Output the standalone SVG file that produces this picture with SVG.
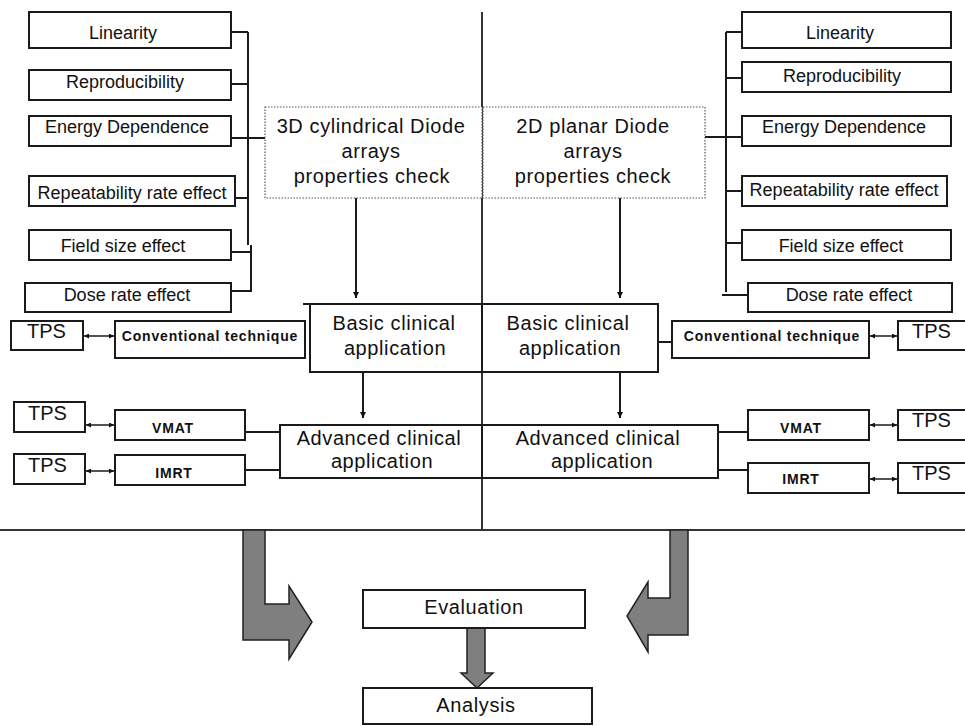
<svg xmlns="http://www.w3.org/2000/svg" width="965" height="726" viewBox="0 0 965 726">
<defs>
<marker id="ah" viewBox="0 0 10 10" refX="10" refY="5" markerWidth="6" markerHeight="6" markerUnits="userSpaceOnUse" orient="auto-start-reverse"><path d="M0,0 L10,5 L0,10 Z" fill="#111"/></marker>
<marker id="ahs" viewBox="0 0 10 10" refX="10" refY="5" markerWidth="6" markerHeight="5" markerUnits="userSpaceOnUse" orient="auto-start-reverse"><path d="M0,0 L10,5 L0,10 Z" fill="#111"/></marker>
<style>
rect.b{fill:#fff;stroke:#1a1a1a;stroke-width:2}
rect.d{fill:#fff;stroke:#555;stroke-width:1.2;stroke-dasharray:1.5 1.5}
text{font-family:"Liberation Sans",Arial,sans-serif;fill:#111}
.p{font-size:18px;text-anchor:middle}
.m{font-size:20px;text-anchor:middle;letter-spacing:0.6px}
.s{font-size:14px;font-weight:bold;text-anchor:middle;letter-spacing:0.8px}
.t{font-size:20px}
.c line,.c path{stroke:#1a1a1a;stroke-width:2;fill:none}
.c .da{stroke-width:1.5;marker-start:url(#ahs);marker-end:url(#ahs)}
.c .ar{marker-end:url(#ah)}
.big{fill:#7f7f7f;stroke:#222;stroke-width:1.5}
</style>
</defs>
<rect width="965" height="726" fill="#fff"/>

<g id="connectors" class="c">
<line x1="482" y1="12" x2="482" y2="530" style="stroke:#333"/>
<line x1="0" y1="530" x2="965" y2="530" style="stroke:#333"/>
<!-- left bus -->
<line x1="248" y1="32" x2="248" y2="245"/>
<line x1="251" y1="245" x2="251" y2="292"/>
<line x1="231" y1="32" x2="248" y2="32"/>
<line x1="231" y1="84" x2="248" y2="84"/>
<line x1="231" y1="138" x2="266" y2="138"/>
<line x1="235" y1="198" x2="248" y2="198"/>
<line x1="231" y1="252" x2="251" y2="252"/>
<line x1="231" y1="291" x2="251" y2="291"/>
<!-- right bus -->
<line x1="726" y1="32" x2="726" y2="292"/>
<line x1="726" y1="32" x2="742" y2="32"/>
<line x1="726" y1="78" x2="742" y2="78"/>
<line x1="705" y1="137" x2="742" y2="137"/>
<line x1="726" y1="191" x2="742" y2="191"/>
<line x1="726" y1="243" x2="742" y2="243"/>
<line x1="722" y1="295" x2="748" y2="295"/>
<!-- vertical arrows -->
<line class="ar" x1="356" y1="198" x2="356" y2="298"/>
<line class="ar" x1="620" y1="198" x2="620" y2="298"/>
<line class="ar" x1="363" y1="372" x2="363" y2="418"/>
<line class="ar" x1="620" y1="372" x2="620" y2="418"/>
<line x1="303" y1="304" x2="312" y2="304"/>
<!-- side links -->
<line x1="658" y1="342" x2="672" y2="342"/>
<line x1="245" y1="432" x2="280" y2="432"/>
<line x1="245" y1="470" x2="280" y2="470"/>
<line x1="718" y1="432" x2="748" y2="432"/>
<line x1="718" y1="470" x2="748" y2="470"/>
<!-- double arrows -->
<line class="da" x1="84" y1="336" x2="114" y2="336"/>
<line class="da" x1="86" y1="425" x2="114" y2="425"/>
<line class="da" x1="86" y1="471" x2="114" y2="471"/>
<line class="da" x1="870" y1="336" x2="897" y2="336"/>
<line class="da" x1="870" y1="425" x2="897" y2="425"/>
<line class="da" x1="870" y1="479" x2="897" y2="479"/>
<!-- big arrows -->
<polygon class="big" points="243,530 265,530 265,604 289,604 289,586 312,622 289,659 289,640 243,640"/>
<polygon class="big" points="670,530 688,530 688,635 648,635 648,652 627,616 648,582 648,598 670,598"/>
<polygon class="big" points="467,628 485,628 485,673 493,673 477,688 461,673 467,673"/>
</g>

<!-- left property boxes -->
<g id="l-linearity"><rect class="b" x="29" y="12" width="202" height="36"/><text class="p" x="123" y="39">Linearity</text></g>
<g id="l-reproducibility"><rect class="b" x="29" y="70" width="202" height="30"/><text class="p" x="125" y="88">Reproducibility</text></g>
<g id="l-energy"><rect class="b" x="29" y="116" width="202" height="30"/><text class="p" x="127" y="133">Energy Dependence</text></g>
<g id="l-repeat"><rect class="b" x="29" y="176" width="206" height="30"/><text class="p" x="132" y="199">Repeatability rate effect</text></g>
<g id="l-field"><rect class="b" x="29" y="230" width="202" height="30"/><text class="p" x="123" y="252">Field size effect</text></g>
<g id="l-dose"><rect class="b" x="25" y="283" width="206" height="29"/><text class="p" x="127" y="301">Dose rate effect</text></g>

<!-- right property boxes -->
<g id="r-linearity"><rect class="b" x="742" y="12" width="209" height="36"/><text class="p" x="840" y="39">Linearity</text></g>
<g id="r-reproducibility"><rect class="b" x="742" y="62" width="209" height="30"/><text class="p" x="842" y="82">Reproducibility</text></g>
<g id="r-energy"><rect class="b" x="742" y="116" width="209" height="30"/><text class="p" x="844" y="133">Energy Dependence</text></g>
<g id="r-repeat"><rect class="b" x="742" y="176" width="205" height="30"/><text class="p" x="844" y="196">Repeatability rate effect</text></g>
<g id="r-field"><rect class="b" x="742" y="230" width="209" height="30"/><text class="p" x="841" y="252">Field size effect</text></g>
<g id="r-dose"><rect class="b" x="748" y="283" width="204" height="29"/><text class="p" x="849" y="301">Dose rate effect</text></g>

<!-- property check boxes -->
<g id="check-3d"><rect class="d" x="265" y="107" width="217" height="91"/><text class="m" x="371" y="133">3D cylindrical Diode</text><text class="m" x="371" y="158">arrays</text><text class="m" x="372" y="183">properties check</text></g>
<g id="check-2d"><rect class="d" x="483" y="107" width="222" height="91"/><text class="m" x="593" y="133">2D planar Diode</text><text class="m" x="593" y="158">arrays</text><text class="m" x="593" y="183">properties check</text></g>

<!-- basic -->
<g id="basic-l"><rect class="b" x="310" y="304" width="172" height="68"/><text class="m" x="394" y="330">Basic clinical</text><text class="m" x="395" y="355">application</text></g>
<g id="basic-r"><rect class="b" x="482" y="304" width="176" height="68"/><text class="m" x="568" y="330">Basic clinical</text><text class="m" x="570" y="355">application</text></g>

<!-- advanced -->
<g id="adv-l"><rect class="b" x="280" y="425" width="202" height="53"/><text class="m" x="379" y="445">Advanced clinical</text><text class="m" x="382" y="468">application</text></g>
<g id="adv-r"><rect class="b" x="482" y="425" width="236" height="53"/><text class="m" x="598" y="445">Advanced clinical</text><text class="m" x="602" y="468">application</text></g>

<!-- technique boxes -->
<g id="conv-l"><rect class="b" x="115" y="321" width="190" height="37"/><text class="s" x="210" y="341">Conventional technique</text></g>
<g id="conv-r"><rect class="b" x="672" y="321" width="197" height="37"/><text class="s" x="772" y="341">Conventional technique</text></g>
<g id="vmat-l"><rect class="b" x="115" y="410" width="130" height="30"/><text class="s" x="173" y="433">VMAT</text></g>
<g id="imrt-l"><rect class="b" x="115" y="455" width="130" height="30"/><text class="s" x="174" y="478">IMRT</text></g>
<g id="vmat-r"><rect class="b" x="748" y="410" width="121" height="30"/><text class="s" x="801" y="433">VMAT</text></g>
<g id="imrt-r"><rect class="b" x="748" y="463" width="121" height="30"/><text class="s" x="801" y="484">IMRT</text></g>

<!-- TPS -->
<g id="tps-l1"><rect class="b" x="11" y="321" width="72" height="29"/><text class="t" x="27" y="338">TPS</text></g>
<g id="tps-l2"><rect class="b" x="14" y="402" width="71" height="30"/><text class="t" x="28" y="420">TPS</text></g>
<g id="tps-l3"><rect class="b" x="14" y="454" width="71" height="30"/><text class="t" x="28" y="472">TPS</text></g>
<g id="tps-r1"><rect class="b" x="898" y="321" width="80" height="29"/><text class="t" x="912" y="338">TPS</text></g>
<g id="tps-r2"><rect class="b" x="898" y="410" width="80" height="30"/><text class="t" x="912" y="427">TPS</text></g>
<g id="tps-r3"><rect class="b" x="898" y="463" width="80" height="30"/><text class="t" x="912" y="480">TPS</text></g>

<!-- bottom -->
<g id="evaluation"><rect class="b" x="363" y="590" width="222" height="38"/><text class="m" x="474" y="614">Evaluation</text></g>
<g id="analysis"><rect class="b" x="363" y="688" width="229" height="36"/><text class="m" x="476" y="712">Analysis</text></g>
</svg>
